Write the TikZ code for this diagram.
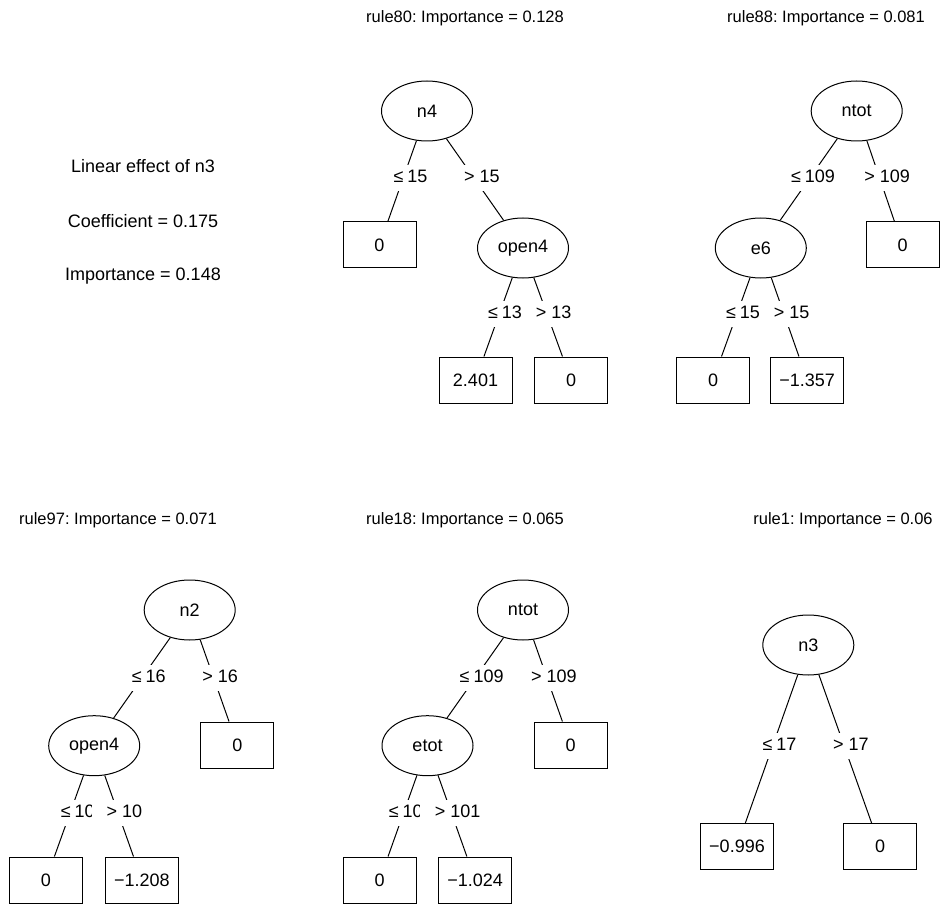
\documentclass[tikz,border=0pt]{standalone}
\usepackage{fontspec}
\setmainfont{Liberation Sans}
\usetikzlibrary{shapes.geometric}
\begin{document}
\frenchspacing
\begin{tikzpicture}[x=1pt,y=-1pt,
  font=\fontsize{18}{21}\selectfont,
  inode/.style={draw, ellipse, line width=1pt, minimum width=91pt, minimum height=60pt, inner sep=0pt},
  tnode/.style={draw, rectangle, line width=1pt, minimum width=73pt, minimum height=46pt, inner sep=0pt},
  conn/.style={line width=1pt},
  elab/.style={fill=white, inner xsep=2pt, inner ysep=4.5pt, text height=13pt, text depth=4pt},
  rlab/.style={elab, inner xsep=15pt},
  ttl/.style={inner sep=0pt, font=\fontsize{16.5}{20}\selectfont},
  lintxt/.style={inner sep=0pt}]
\useasboundingbox (0,0) rectangle (940,904);

% ---------- linear term ----------
\node[lintxt] (lin1) at (143,166) {Linear effect of n3};
\node[lintxt] (lin2) at (143,221) {Coefficient = 0.175};
\node[lintxt] (lin3) at (143,276) {Importance = 0.148};

% ---------- rule80 ----------
\node[ttl] (t80) at (465,18) {rule80: Importance = 0.128};
\node[inode] (a0) at (427,111) {n4};
\node[tnode] (a1) at (379.5,245) {0};
\node[inode] (a2) at (523,248) {open4};
\node[tnode] (a3) at (475.5,380) {2.401};
\node[tnode] (a4) at (571,380) {0};
\draw[conn] (a0) -- (a1);
\draw[conn] (a0) -- (a2);
\draw[conn] (a2) -- (a3);
\draw[conn] (a2) -- (a4);
\node[elab] (la1) at (410.5,178) {≤\hspace{4pt}15};
\node[elab] (la3) at (505,314) {≤\hspace{4pt}13};
\node[rlab] (la2) at (482,178) {> 15};
\node[rlab] (la4) at (553.7,314) {> 13};

% ---------- rule88 ----------
\node[ttl] (t88) at (826,18) {rule88: Importance = 0.081};
\node[inode] (b0) at (856.7,111) {ntot};
\node[inode] (b1) at (760.8,248) {e6};
\node[tnode] (b2) at (902.5,245) {0};
\node[tnode] (b3) at (713,380) {0};
\node[tnode] (b4) at (807.2,380) {−1.357};
\draw[conn] (b0) -- (b1);
\draw[conn] (b0) -- (b2);
\draw[conn] (b1) -- (b3);
\draw[conn] (b1) -- (b4);
\node[elab] (lb1) at (813,178) {≤\hspace{4pt}109};
\node[elab] (lb3) at (743,314) {≤\hspace{4pt}15};
\node[rlab] (lb2) at (887.2,178) {> 109};
\node[rlab] (lb4) at (791.7,314) {> 15};

% ---------- rule97 ----------
\node[ttl] (t97) at (118,520) {rule97: Importance = 0.071};
\node[inode] (c0) at (189.7,610) {n2};
\node[inode] (c1) at (94.2,745.7) {open4};
\node[tnode] (c2) at (237.3,745) {0};
\node[tnode] (c3) at (46,880) {0};
\node[tnode] (c4) at (141.8,880) {−1.208};
\draw[conn] (c0) -- (c1);
\draw[conn] (c0) -- (c2);
\draw[conn] (c1) -- (c3);
\draw[conn] (c1) -- (c4);
\node[elab] (lc1) at (148.7,678) {≤\hspace{4pt}16};
\node[elab] (lc3) at (77.8,813) {≤\hspace{4pt}10};
\node[rlab] (lc2) at (220.2,678) {> 16};
\node[rlab] (lc4) at (124.5,813) {> 10};

% ---------- rule18 ----------
\node[ttl] (t18) at (465,520) {rule18: Importance = 0.065};
\node[inode] (d0) at (523,610) {ntot};
\node[inode] (d1) at (427.5,745.7) {etot};
\node[tnode] (d2) at (570.7,745) {0};
\node[tnode] (d3) at (379.7,880) {0};
\node[tnode] (d4) at (475.2,880) {−1.024};
\draw[conn] (d0) -- (d1);
\draw[conn] (d0) -- (d2);
\draw[conn] (d1) -- (d3);
\draw[conn] (d1) -- (d4);
\node[elab] (ld1) at (481.7,678) {≤\hspace{4pt}109};
\node[elab] (ld3) at (410.8,813) {≤\hspace{4pt}101};
\node[rlab] (ld2) at (553.8,678) {> 109};
\node[rlab] (ld4) at (457.7,813) {> 101};

% ---------- rule1 ----------
\node[ttl] (t1) at (843,520) {rule1: Importance = 0.06};
\node[inode] (e0) at (808.3,645) {n3};
\node[tnode] (e1) at (737,846.7) {−0.996};
\node[tnode] (e2) at (880,846.7) {0};
\draw[conn] (e0) -- (e1);
\draw[conn] (e0) -- (e2);
\node[elab] (le1) at (779.5,745.5) {≤\hspace{4pt}17};
\node[rlab] (le2) at (850.8,745.5) {> 17};
\end{tikzpicture}
\end{document}
